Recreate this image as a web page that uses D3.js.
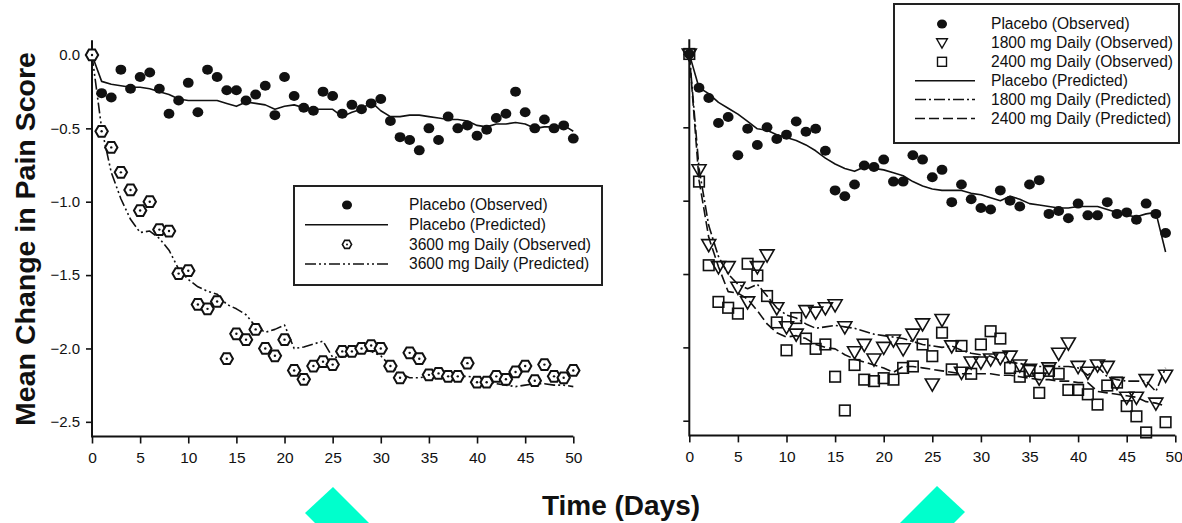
<!DOCTYPE html>
<html>
<head>
<meta charset="utf-8">
<script src="https://cdn.jsdelivr.net/npm/d3@7"></script>
<style>
  html, body { margin: 0; padding: 0; background: #fff; }
  svg { display: block; font-family: "Liberation Sans", Arial, Helvetica, sans-serif; }
</style>
</head>
<body>
<svg id="chart" width="1182" height="523"></svg>
<script>
// ---- Data: mean change in pain score by study day ----
const daysLeft = d3.range(0, 51);   // 0..50
const daysRight = d3.range(0, 50);  // 0..49

const leftPlaceboObs = [0, -0.26, -0.29, -0.10, -0.23, -0.15, -0.12, -0.23, -0.40, -0.31, -0.19,
  -0.39, -0.10, -0.15, -0.24, -0.24, -0.31, -0.27, -0.21, -0.41, -0.15,
  -0.28, -0.36, -0.38, -0.25, -0.28, -0.40, -0.34, -0.37, -0.33, -0.30,
  -0.45, -0.56, -0.58, -0.65, -0.50, -0.58, -0.42, -0.50, -0.48, -0.55,
  -0.51, -0.43, -0.40, -0.25, -0.39, -0.50, -0.44, -0.50, -0.48, -0.57];
const leftPlaceboPred = [0, -0.18, -0.20, -0.21, -0.22, -0.22, -0.23, -0.25, -0.27, -0.30, -0.31,
  -0.31, -0.31, -0.31, -0.33, -0.35, -0.32, -0.33, -0.34, -0.37, -0.35,
  -0.34, -0.36, -0.37, -0.37, -0.37, -0.42, -0.39, -0.37, -0.32, -0.38,
  -0.42, -0.42, -0.41, -0.41, -0.42, -0.43, -0.44, -0.44, -0.45, -0.48,
  -0.49, -0.47, -0.47, -0.46, -0.47, -0.50, -0.49, -0.49, -0.48, -0.52];
const left3600Obs = [0, -0.52, -0.63, -0.80, -0.92, -1.06, -1.00, -1.19, -1.20, -1.49, -1.47,
  -1.70, -1.73, -1.68, -2.07, -1.90, -1.94, -1.87, -2.00, -2.05, -1.94,
  -2.15, -2.21, -2.12, -2.09, -2.11, -2.02, -2.02, -2.00, -1.98, -2.00,
  -2.12, -2.20, -2.03, -2.07, -2.18, -2.17, -2.19, -2.19, -2.10, -2.23,
  -2.23, -2.19, -2.21, -2.16, -2.12, -2.22, -2.11, -2.19, -2.20, -2.15];
const left3600Pred = [0, -0.50, -0.80, -0.98, -1.12, -1.21, -1.20, -1.25, -1.33, -1.46, -1.53,
  -1.58, -1.61, -1.63, -1.70, -1.73, -1.77, -1.85, -1.89, -1.87, -1.84,
  -2.00, -1.99, -1.97, -1.95, -2.06, -2.06, -2.04, -2.01, -2.02, -2.05,
  -2.12, -2.17, -2.20, -2.20, -2.19, -2.19, -2.19, -2.19, -2.19, -2.20,
  -2.22, -2.24, -2.25, -2.26, -2.25, -2.24, -2.24, -2.25, -2.25, -2.26];

const rightPlaceboObs = [0, -0.23, -0.30, -0.47, -0.43, -0.69, -0.51, -0.62, -0.50, -0.58, -0.55,
  -0.46, -0.53, -0.51, -0.66, -0.93, -0.97, -0.89, -0.76, -0.77, -0.72,
  -0.87, -0.87, -0.69, -0.72, -0.84, -0.79, -1.01, -0.89, -0.99, -1.05,
  -1.06, -0.93, -1.00, -1.04, -0.89, -0.86, -1.09, -1.07, -1.12, -1.02,
  -1.10, -1.10, -1.01, -1.09, -1.08, -1.13, -1.02, -1.09, -1.22];
const rightPlaceboPred = [0, -0.23, -0.27, -0.33, -0.37, -0.41, -0.46, -0.51, -0.52, -0.55, -0.57,
  -0.59, -0.62, -0.66, -0.71, -0.75, -0.78, -0.80, -0.77, -0.78, -0.79,
  -0.81, -0.83, -0.87, -0.90, -0.92, -0.93, -0.93, -0.93, -0.95, -0.96,
  -0.98, -1.00, -0.97, -0.99, -1.02, -1.03, -1.04, -1.05, -1.05, -1.04,
  -1.04, -1.04, -1.06, -1.08, -1.10, -1.11, -1.09, -1.08, -1.35];
const right1800Obs = [0, -0.79, -1.30, -1.45, -1.45, -1.59, -1.69, -1.45, -1.37, -1.73, -1.86,
  -1.91, -1.75, -1.76, -1.73, -1.71, -1.86, -2.03, -1.98, -2.08, -2.00,
  -1.95, -2.01, -1.91, -1.84, -2.25, -1.81, -1.99, -2.17, -2.10, -2.10,
  -2.08, -2.07, -2.06, -2.12, -2.15, -2.21, -2.14, -2.04, -1.97, -2.13,
  -2.17, -2.12, -2.13, -2.24, -2.34, -2.34, -2.22, -2.38, -2.19];
const right2400Obs = [0, -0.87, -1.44, -1.69, -1.73, -1.77, -1.43, -1.51, -1.65, -1.83, -2.02,
  -1.80, -1.94, -2.01, -1.98, -2.20, -2.43, -2.12, -2.22, -2.23, -2.21,
  -2.22, -2.14, -2.13, -1.98, -2.06, -1.90, -2.15, -1.99, -2.18, -1.98,
  -1.89, -1.94, -2.14, -2.20, -2.16, -2.31, -2.16, -2.18, -2.29, -2.29,
  -2.32, -2.39, -2.26, -2.24, -2.40, -2.47, -2.58, null, -2.51];
const right1800Pred = [0, -0.78, -1.17, -1.38, -1.50, -1.57, -1.60, -1.57, -1.65, -1.73, -1.78,
  -1.80, -1.84, -1.87, -1.86, -1.85, -1.86, -1.87, -1.89, -1.91, -1.92,
  -1.93, -1.94, -1.96, -1.98, -1.99, -2.00, -1.99, -2.02, -2.04, -2.05,
  -2.06, -2.09, -2.10, -2.11, -2.12, -2.13, -2.13, -2.13, -2.13, -2.14,
  -2.19, -2.13, -2.20, -2.22, -2.23, -2.23, -2.23, -2.30, -2.14];
const right2400Pred = [0, -0.86, -1.25, -1.45, -1.62, -1.63, -1.67, -1.75, -1.84, -1.90, -1.93,
  -1.92, -1.94, -1.98, -2.00, -2.01, -2.05, -2.08, -2.10, -2.12, -2.14,
  -2.17, -2.13, -2.13, -2.14, -2.15, -2.16, -2.17, -2.18, -2.18, -2.18,
  -2.18, -2.19, -2.19, -2.20, -2.21, -2.22, -2.22, -2.23, -2.23, -2.24,
  -2.24, -2.30, -2.31, -2.32, -2.33, -2.34, -2.37, -2.38, -2.40];

const xTicks = [0, 5, 10, 15, 20, 25, 30, 35, 40, 45, 50];
const yTicks = [0, -0.5, -1.0, -1.5, -2.0, -2.5];
const yTitle = "Mean Change in Pain Score";
const xTitle = "Time (Days)";
const leftLegend = ["Placebo (Observed)", "Placebo (Predicted)", "3600 mg Daily (Observed)", "3600 mg Daily (Predicted)"];
const rightLegend = ["Placebo (Observed)", "1800 mg Daily (Observed)", "2400 mg Daily (Observed)",
  "Placebo (Predicted)", "1800 mg Daily (Predicted)", "2400 mg Daily (Predicted)"];

// ---- Styling ----
const INK = "#111";
const DASH_DOT_DOT = "11,3,2,3,2,3";
const DASH_DOT = "11,3,2,3";
const LONG_DASH = "10,4";

const svg = d3.select("#chart");

// decorative cyan shapes along the bottom edge
const deco = svg.append("g").attr("fill", "#00ffcc");
deco.append("polygon").attr("points", "305,513 333,487 369,523 315,523");
deco.append("polygon").attr("points", "900,523 937,486 965,512 954,523");

// ---- Panels ----
const leftX = d3.scaleLinear().domain([0, 50]).range([92, 573.3]);
const leftY = d3.scaleLinear().domain([-2.6, 0.1]).range([436.5, 40.3]);
const rightX = d3.scaleLinear().domain([0, 50]).range([689.3, 1175.3]);
const rightY = d3.scaleLinear().domain([-2.6, 0.1]).range([435.4, 39.3]);

function drawAxes(g, x, y, showYLabels) {
  const xa = g.append("g").attr("transform", `translate(0,${y.range()[0]})`)
    .call(d3.axisBottom(x).tickValues(xTicks).tickFormat(d3.format("d")).tickSize(7).tickSizeOuter(0));
  xa.select(".domain").attr("stroke", INK).attr("stroke-width", 2)
    .attr("d", `M${x.range()[0]},0H${x.range()[1]}`);
  xa.selectAll(".tick line").attr("stroke", INK).attr("stroke-width", 1.6);
  xa.selectAll(".tick text").attr("font-size", 15.5).attr("fill", INK).attr("y", 12).attr("dy", "0.95em")
    .attr("font-family", "Liberation Sans, Arial, sans-serif")
    // keep the last label inside the page edge
    .attr("text-anchor", d => (d === 50 && x.range()[1] > 1170) ? "end" : "middle")
    .attr("dx", d => (d === 50 && x.range()[1] > 1170) ? 7 : 0);

  const ya = g.append("g").attr("transform", `translate(${x.range()[0]},0)`)
    .call(d3.axisLeft(y).tickValues(yTicks).tickFormat(showYLabels ? d3.format(".1f") : () => "").tickSize(6).tickSizeOuter(0));
  ya.select(".domain").attr("stroke", INK).attr("stroke-width", 2)
    .attr("d", `M0,${y.range()[1]}V${y.range()[0] + 1}`);
  ya.selectAll(".tick line").attr("stroke", INK).attr("stroke-width", 1.6);
  ya.selectAll(".tick text").attr("font-size", 15).attr("fill", INK).attr("x", -12)
    .attr("font-family", "Liberation Sans, Arial, sans-serif");
}

function series(days, vals) {
  return days.map((d, i) => ({ day: d, v: vals[i] })).filter(p => p.v !== null && p.v !== undefined);
}

function drawLine(g, x, y, days, vals, dash) {
  const line = d3.line().x(p => x(p.day)).y(p => y(p.v));
  g.append("path").datum(series(days, vals)).attr("d", line)
    .attr("fill", "none").attr("stroke", INK).attr("stroke-width", 1.6)
    .attr("stroke-dasharray", dash || null).attr("stroke-linejoin", "round");
}

function hexPath(r) {
  const pts = d3.range(6).map(k => {
    const a = Math.PI / 3 * k;
    return [r * Math.cos(a), r * Math.sin(a)];
  });
  return "M" + pts.map(p => p.join(",")).join("L") + "Z";
}

function drawDots(g, x, y, days, vals) {
  g.append("g").selectAll("ellipse").data(series(days, vals)).join("ellipse")
    .attr("cx", p => x(p.day)).attr("cy", p => y(p.v)).attr("rx", 5.4).attr("ry", 5).attr("fill", INK);
}
function drawHex(g, x, y, days, vals) {
  const s = g.append("g").selectAll("g").data(series(days, vals)).join("g")
    .attr("transform", p => `translate(${x(p.day)},${y(p.v)})`);
  s.append("path").attr("d", hexPath(6.2)).attr("fill", "#fff").attr("stroke", INK).attr("stroke-width", 2);
  s.append("circle").attr("r", 1.2).attr("fill", INK);
}
function drawTri(g, x, y, days, vals) {
  const sym = d3.symbol().type(d3.symbolTriangle).size(85);
  g.append("g").selectAll("path").data(series(days, vals)).join("path")
    .attr("d", sym).attr("transform", p => `translate(${x(p.day)},${y(p.v) - 1}) rotate(180)`)
    .attr("fill", "none").attr("stroke", INK).attr("stroke-width", 1.6);
}
function drawSq(g, x, y, days, vals) {
  g.append("g").selectAll("rect").data(series(days, vals)).join("rect")
    .attr("x", p => x(p.day) - 5.3).attr("y", p => y(p.v) - 5.3).attr("width", 10.6).attr("height", 10.6)
    .attr("fill", "none").attr("stroke", INK).attr("stroke-width", 1.6);
}

// Left panel: placebo vs 3600 mg daily
const gl = svg.append("g");
drawAxes(gl, leftX, leftY, true);
drawLine(gl, leftX, leftY, daysLeft, leftPlaceboPred, null);
drawLine(gl, leftX, leftY, daysLeft, left3600Pred, DASH_DOT_DOT);
drawDots(gl, leftX, leftY, daysLeft, leftPlaceboObs);
drawHex(gl, leftX, leftY, daysLeft, left3600Obs);

// Right panel: placebo vs 1800 and 2400 mg daily
const gr = svg.append("g");
drawAxes(gr, rightX, rightY, false);
drawLine(gr, rightX, rightY, daysRight, rightPlaceboPred, null);
drawLine(gr, rightX, rightY, daysRight, right1800Pred, DASH_DOT);
drawLine(gr, rightX, rightY, daysRight, right2400Pred, LONG_DASH);
drawDots(gr, rightX, rightY, daysRight, rightPlaceboObs);
drawTri(gr, rightX, rightY, daysRight, right1800Obs);
drawSq(gr, rightX, rightY, daysRight, right2400Obs);

// ---- Axis titles ----
svg.append("text").attr("transform", "translate(35,239) rotate(-90)")
  .attr("text-anchor", "middle").attr("font-size", 28.5).attr("font-weight", "bold").attr("fill", INK)
  .text(yTitle);
svg.append("text").attr("x", 621).attr("y", 515)
  .attr("text-anchor", "middle").attr("font-size", 28).attr("font-weight", "bold").attr("fill", INK)
  .text(xTitle);

// ---- Legends ----
function legendSample(g, kind, cx, cy, x0, x1) {
  if (kind === "dot") g.append("ellipse").attr("cx", cx).attr("cy", cy).attr("rx", 5).attr("ry", 4.6).attr("fill", INK);
  else if (kind === "hex") {
    g.append("path").attr("d", hexPath(4.6)).attr("transform", `translate(${cx},${cy})`)
      .attr("fill", "#fff").attr("stroke", INK).attr("stroke-width", 1.6);
    g.append("circle").attr("cx", cx).attr("cy", cy).attr("r", 1).attr("fill", INK);
  } else if (kind === "tri") {
    g.append("path").attr("d", d3.symbol().type(d3.symbolTriangle).size(50))
      .attr("transform", `translate(${cx},${cy - 1}) rotate(180)`).attr("fill", "none").attr("stroke", INK).attr("stroke-width", 1.4);
  } else if (kind === "sq") {
    g.append("rect").attr("x", cx - 4.5).attr("y", cy - 4.5).attr("width", 9).attr("height", 9)
      .attr("fill", "none").attr("stroke", INK).attr("stroke-width", 1.4);
  } else {
    g.append("line").attr("x1", x0).attr("x2", x1).attr("y1", cy).attr("y2", cy)
      .attr("stroke", INK).attr("stroke-width", 1.5).attr("stroke-dasharray", kind === "solid" ? null : kind);
  }
}

const lg = svg.append("g");
lg.append("rect").attr("x", 294).attr("y", 186).attr("width", 308).attr("height", 99)
  .attr("fill", "#fff").attr("stroke", "#222").attr("stroke-width", 2);
const leftKinds = ["dot", "solid", "hex", DASH_DOT_DOT];
leftLegend.forEach((t, i) => {
  const cy = 205 + i * 19.7;
  legendSample(lg, leftKinds[i], 347, cy, 305, 388);
  lg.append("text").attr("x", 409).attr("y", cy + 5.3).attr("font-size", 15.6).attr("fill", INK).text(t);
});

const rg = svg.append("g");
rg.append("rect").attr("x", 894).attr("y", 4).attr("width", 285).attr("height", 139)
  .attr("fill", "#fff").attr("stroke", "#222").attr("stroke-width", 2);
const rightKinds = ["dot", "tri", "sq", "solid", DASH_DOT, LONG_DASH];
rightLegend.forEach((t, i) => {
  const cy = 24 + i * 18.9;
  legendSample(rg, rightKinds[i], 942, cy, 915, 975);
  rg.append("text").attr("x", 991).attr("y", cy + 5.3).attr("font-size", 15.6).attr("fill", INK).text(t);
});
</script>
</body>
</html>
